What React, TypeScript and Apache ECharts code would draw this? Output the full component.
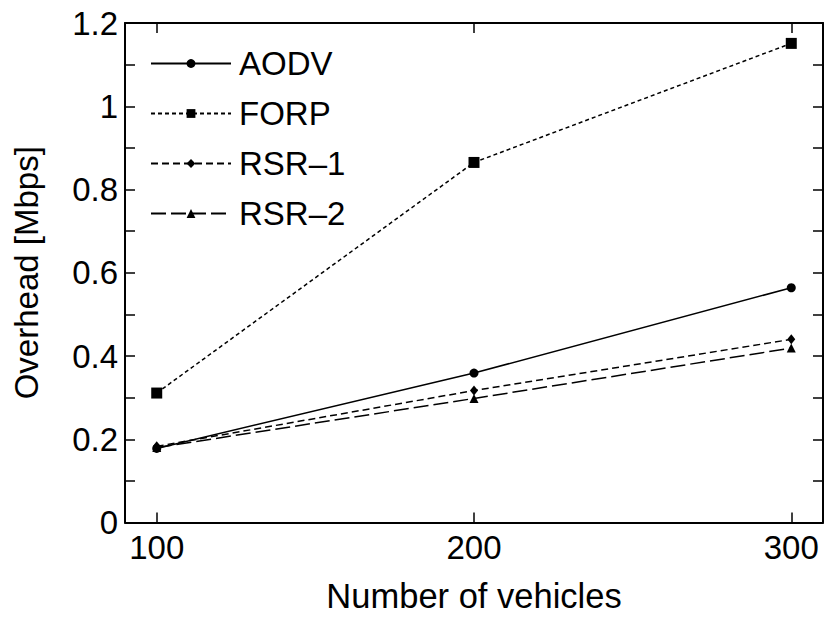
import React, { useEffect, useRef } from "react";
import * as echarts from "echarts";

const vehicles = [100, 200, 300];
const aodv = [0.178, 0.359, 0.564];
const forp = [0.311, 0.865, 1.151];
const rsr1 = [0.183, 0.317, 0.44];
const rsr2 = [0.18, 0.298, 0.419];
const xTicks = [100, 200, 300];
const seriesNames = ["AODV", "FORP", "RSR–1", "RSR–2"];

const FONT = "'Liberation Sans', Arial, Helvetica, sans-serif";

export default function App() {
  const ref = useRef<HTMLDivElement>(null);
  useEffect(() => {
    document.body.style.margin = "0";
    if (!ref.current) return;
    const chart = echarts.init(ref.current, null, { renderer: "svg" });
    const pairs = (ys: number[]) => vehicles.map((x, i) => [x, ys[i]]);
    const axisLine = { show: true, onZero: false, lineStyle: { color: "#000", width: 2 } };
    const tick = { show: true, inside: true, length: 10, lineStyle: { color: "#000", width: 1.5 } };
    const mk = (name: string, ys: number[], symbol: string, size: any, dash: any) => ({
      name,
      type: "line",
      data: pairs(ys),
      symbol,
      symbolSize: size,
      showSymbol: true,
      itemStyle: { color: "#000" },
      lineStyle: { color: "#000", width: 1.5, type: dash },
      emphasis: { disabled: true },
    });
    chart.setOption({
      animation: false,
      backgroundColor: "#fff",
      textStyle: { fontFamily: FONT, color: "#000" },
      grid: { left: 125, right: 2, top: 23, bottom: 95.5, containLabel: false, outerBoundsMode: "none" },
      legend: {
        data: seriesNames,
        orient: "vertical",
        left: 150,
        top: 47,
        padding: 0,
        itemWidth: 80,
        itemHeight: 11,
        itemGap: 17,
        textStyle: { fontSize: 33, fontFamily: FONT, color: "#000", lineHeight: 33, padding: [0, 0, 0, 3] },
        selectedMode: false,
      },
      xAxis: [
        {
          type: "value",
          min: 90,
          max: 310,
          position: "bottom",
          axisLine,
          axisTick: { ...tick, customValues: xTicks },
          axisLabel: { customValues: xTicks, fontSize: 33, color: "#000", fontFamily: FONT, margin: 8 },
          splitLine: { show: false },
          name: "Number of vehicles",
          nameLocation: "middle",
          nameGap: 56,
          nameTextStyle: { fontSize: 34.5, color: "#000", fontFamily: FONT },
        },
        {
          type: "value",
          min: 90,
          max: 310,
          position: "top",
          axisLine,
          axisTick: { ...tick, customValues: xTicks },
          axisLabel: { show: false },
          splitLine: { show: false },
        },
      ],
      yAxis: [
        {
          type: "value",
          min: 0,
          max: 1.2,
          interval: 0.1,
          position: "left",
          axisLine,
          axisTick: tick,
          axisLabel: {
            fontSize: 33,
            color: "#000",
            fontFamily: FONT,
            margin: 7,
            formatter: (v: number) => {
              const k = Math.round(v * 10);
              return k % 2 === 0 ? String(k / 10) : "";
            },
          },
          splitLine: { show: false },
          name: "Overhead [Mbps]",
          nameLocation: "middle",
          nameGap: 82,
          nameTextStyle: { fontSize: 33, color: "#000", fontFamily: FONT },
        },
        {
          type: "value",
          min: 0,
          max: 1.2,
          interval: 0.1,
          position: "right",
          axisLine,
          axisTick: tick,
          axisLabel: { show: false },
          splitLine: { show: false },
        },
      ],
      series: [
        mk(seriesNames[0], aodv, "circle", 9, "solid"),
        mk(seriesNames[1], forp, "rect", 11, [4, 3]),
        mk(seriesNames[2], rsr1, "diamond", [8, 10], [7, 4]),
        mk(seriesNames[3], rsr2, "triangle", 9, [15, 5]),
      ],
    });
    return () => chart.dispose();
  }, []);
  return <div ref={ref} style={{ width: 825, height: 618 }} />;
}
